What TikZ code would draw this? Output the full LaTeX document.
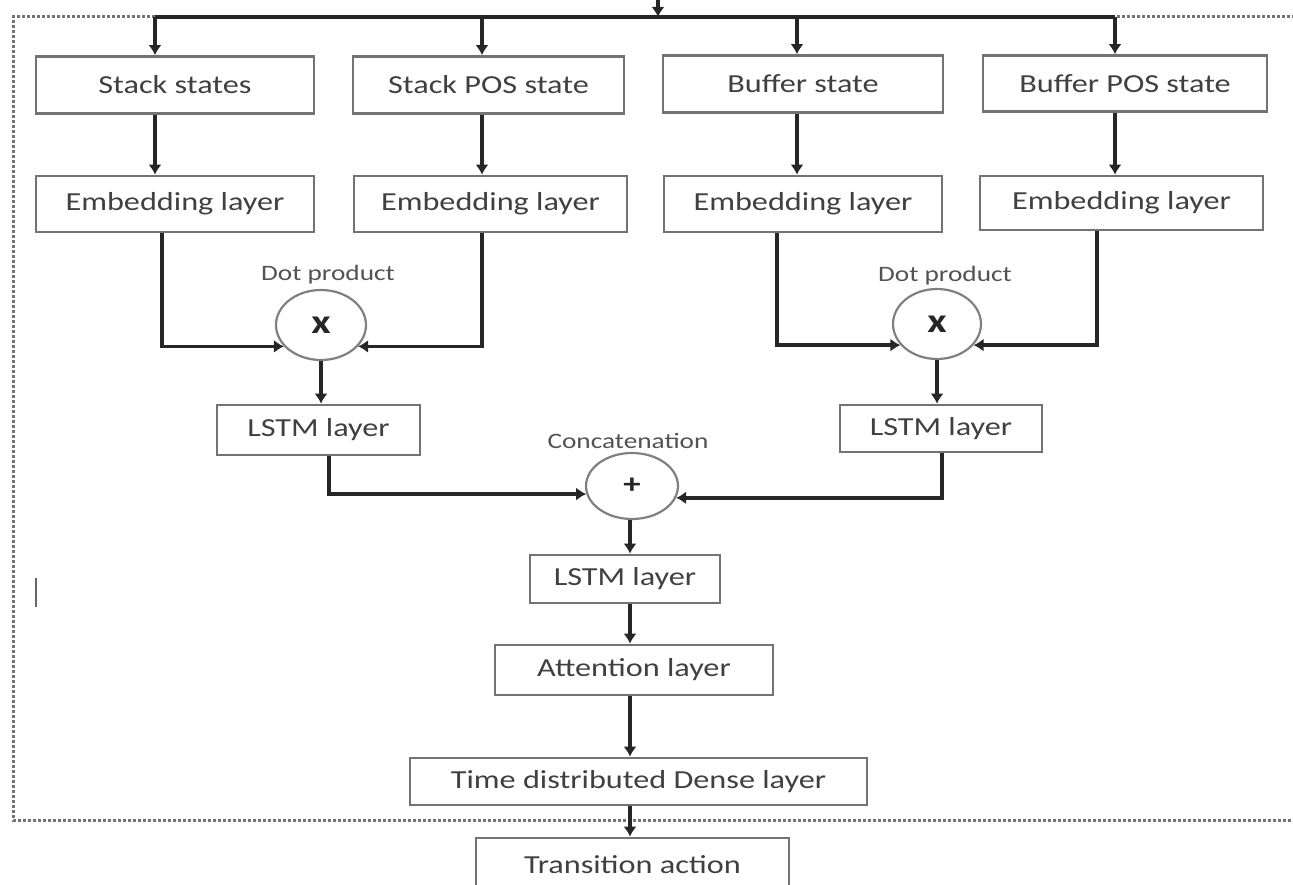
\documentclass[tikz,border=0pt]{standalone}
\usepackage{fontspec}
\setmainfont{Carlito}[FakeStretch=1.24]
\usetikzlibrary{arrows.meta,shapes.geometric}
\begin{document}
\begin{tikzpicture}[x=1pt,y=-1pt,
  box/.style={draw=black!55, line width=2.6pt, fill=white, text=black!75,
    font=\fontsize{26}{30}\selectfont, inner sep=0pt},
  op/.style={ellipse, draw=black!50, line width=2.2pt, fill=white, inner sep=0pt,
    text=black!85, font=\fontsize{34}{36}\selectfont\bfseries},
  lab/.style={text=black!68, font=\fontsize{22}{26}\selectfont, inner sep=0pt},
  arr/.style={draw=black!85, line width=3.4pt, -{Latex[length=10pt,width=13pt]}},
  busline/.style={draw=black!85, line width=3.8pt},
  frame/.style={draw=black!55, line width=3pt, dash pattern=on 3pt off 2pt},
]
\useasboundingbox (0,0) rectangle (1293,885);
\clip (0,0) rectangle (1293,885);

% dotted frame
\draw[frame] (1300,17) -- (13,17) -- (13,820) -- (1300,820);

% top row
\node[box, minimum width=278pt, minimum height=57pt] (ss) at (175,85)    {Stack states};
\node[box, minimum width=271pt, minimum height=57pt] (sp) at (488.5,85)  {Stack POS state};
\node[box, minimum width=280pt, minimum height=57pt] (bs) at (803,84)    {Buffer state};
\node[box, minimum width=284pt, minimum height=56pt] (bp) at (1125,83.5) {Buffer POS state};

% embedding row
\node[box, minimum width=278pt, minimum height=56pt] (e1) at (175,204)    {Embedding layer};
\node[box, minimum width=273pt, minimum height=56pt] (e2) at (490.5,204)  {Embedding layer};
\node[box, minimum width=278pt, minimum height=56pt] (e3) at (803,204)    {Embedding layer};
\node[box, minimum width=283pt, minimum height=54pt] (e4) at (1121.5,203) {Embedding layer};

% dot products
\node[op, minimum width=90pt, minimum height=70pt] (d1) at (321,325) {x};
\node[op, minimum width=88pt, minimum height=70pt] (d2) at (937,324) {x};
\node[lab] (ld1) at (328,275) {Dot product};
\node[lab] (ld2) at (945,276) {Dot product};

% LSTM layers
\node[box, minimum width=203pt, minimum height=50pt] (l1) at (318.5,430) {LSTM layer};
\node[box, minimum width=202pt, minimum height=47pt] (l2) at (941,428.5) {LSTM layer};

% concatenation
\node[op, minimum width=92pt, minimum height=66pt, font=\fontsize{28}{30}\selectfont\bfseries] (c) at (632,486) {+};
\node[lab] (lc) at (628,441) {Concatenation};

% centre column
\node[box, minimum width=190pt, minimum height=48pt] (l3)  at (625,579)    {LSTM layer};
\node[box, minimum width=278pt, minimum height=50pt] (att) at (634,670)    {Attention layer};
\node[box, minimum width=457pt, minimum height=47pt] (tdd) at (638.5,781.5) {Time distributed Dense layer};
\node[box, minimum width=313pt, minimum height=54pt] (ta)  at (632.5,865)  {Transition action};

% top bus
\coordinate (t1) at (155,17);
\coordinate (t2) at (482,17);
\coordinate (t3) at (797,17);
\coordinate (t4) at (1115,17);
\coordinate (tin) at (658,-12);
\coordinate (tbus) at (658,17);
\draw[busline] (t1) -- (t4);
\draw[arr] (tin) -- (tbus);
\draw[arr] (t1) -- (t1 |- ss.north);
\draw[arr] (t2) -- (t2 |- sp.north);
\draw[arr] (t3) -- (t3 |- bs.north);
\draw[arr] (t4) -- (t4 |- bp.north);

% state -> embedding
\draw[arr] (t1 |- ss.south) -- (t1 |- e1.north);
\draw[arr] (t2 |- sp.south) -- (t2 |- e2.north);
\draw[arr] (t3 |- bs.south) -- (t3 |- e3.north);
\draw[arr] (t4 |- bp.south) -- (t4 |- e4.north);

% embedding -> dot product
\coordinate (v1) at (162,0);
\coordinate (v2) at (482,0);
\coordinate (v3) at (777,0);
\coordinate (v4) at (1097,0);
\draw[arr] (v1 |- e1.south) |- (d1.210);
\draw[arr] (v2 |- e2.south) |- (d1.330);
\draw[arr] (v3 |- e3.south) |- (d2.210);
\draw[arr] (v4 |- e4.south) |- (d2.330);

% dot product -> LSTM
\draw[arr] (d1.south) -- (d1.south |- l1.north);
\draw[arr] (d2.south) -- (d2.south |- l2.north);

% LSTM -> concatenation
\coordinate (v5) at (329,0);
\coordinate (v6) at (942,0);
\draw[arr] (v5 |- l1.south) |- (c.190);
\draw[arr] (v6 |- l2.south) |- (c.345);

% centre column
\coordinate (cx) at (630,0);
\draw[arr] (cx |- c.south) -- (cx |- l3.north);
\draw[arr] (cx |- l3.south) -- (cx |- att.north);
\draw[arr] (cx |- att.south) -- (cx |- tdd.north);
\draw[arr] (cx |- tdd.south) -- (cx |- ta.north);

% stray cursor mark
\draw[black!60, line width=2pt] (36,578) -- (36,607);
\end{tikzpicture}
\end{document}
